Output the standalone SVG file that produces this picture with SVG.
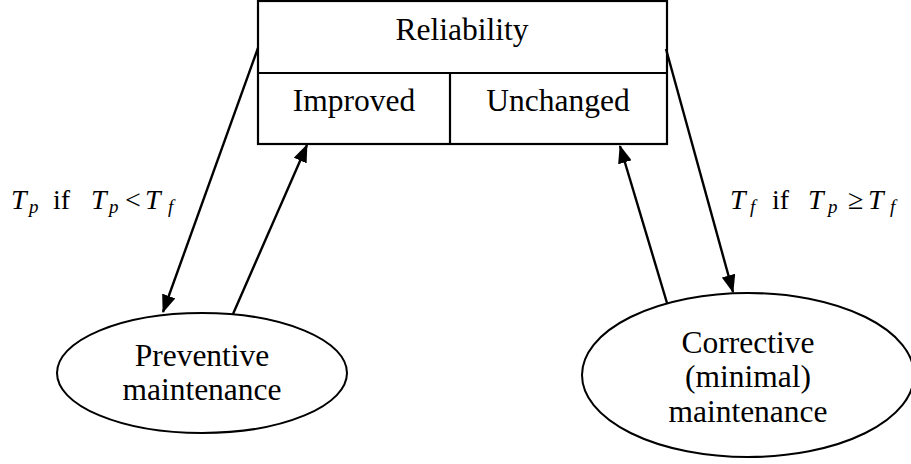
<svg xmlns="http://www.w3.org/2000/svg" width="911" height="464" viewBox="0 0 911 464">
<style>
.t{font-family:"Liberation Serif","Times New Roman",serif;font-size:31.5px;fill:#000;text-anchor:middle}
.m{font-family:"Liberation Serif","Times New Roman",serif;font-size:28px;fill:#000}
.i{font-style:italic}
.s{font-style:italic;font-size:19px}
.box{fill:#fff;stroke:#000;stroke-width:2.2}
.ell{fill:#fff;stroke:#000;stroke-width:2}
.ln{stroke:#000;stroke-width:2.4;fill:none;marker-end:url(#ah)}
</style>
<defs>
<marker id="ah" viewBox="0 0 18 14" refX="17" refY="7" markerWidth="18" markerHeight="14" markerUnits="userSpaceOnUse" orient="auto">
<path d="M0,0 L18,7 L0,14 Z" fill="#000"/>
</marker>
</defs>
<rect width="911" height="464" fill="#fff"/>
<g id="reliability">
<rect class="box" x="258" y="1" width="409" height="143"/>
<line x1="258" y1="73" x2="667" y2="73" stroke="#000" stroke-width="2.2"/>
<line x1="450" y1="73" x2="450" y2="144" stroke="#000" stroke-width="2.2"/>
<text class="t" x="462" y="40">Reliability</text>
</g>
<g id="improved">
<text class="t" x="354" y="111">Improved</text>
</g>
<g id="unchanged">
<text class="t" x="558" y="111">Unchanged</text>
</g>
<g id="preventive">
<ellipse class="ell" cx="202" cy="373" rx="145" ry="60"/>
<text class="t" x="202" y="366">Preventive</text>
<text class="t" x="202" y="400">maintenance</text>
</g>
<g id="corrective">
<ellipse class="ell" cx="748" cy="375" rx="166" ry="82"/>
<text class="t" x="748" y="353">Corrective</text>
<text class="t" x="748" y="387">(minimal)</text>
<text class="t" x="748" y="422">maintenance</text>
</g>
<g id="connectors">
<line class="ln" x1="258" y1="48" x2="163" y2="312"/>
<line class="ln" x1="233" y1="314" x2="307" y2="145"/>
<line class="ln" x1="667" y1="303" x2="620" y2="146"/>
<line class="ln" x1="666" y1="49" x2="733" y2="292"/>
</g>
<g id="label-left">
<text class="m i" x="11" y="209">T</text>
<text class="m s" x="29" y="213">p</text>
<text class="m" x="53" y="209">if</text>
<text class="m i" x="91" y="209">T</text>
<text class="m s" x="109" y="213">p</text>
<text class="m" x="125" y="209">&lt;</text>
<text class="m i" x="145" y="209">T</text>
<text class="m s" x="168" y="213">f</text>
</g>
<g id="label-right">
<text class="m i" x="730" y="209">T</text>
<text class="m s" x="750" y="213">f</text>
<text class="m" x="772" y="209">if</text>
<text class="m i" x="808" y="209">T</text>
<text class="m s" x="828" y="213">p</text>
<text class="m" x="848" y="209">≥</text>
<text class="m i" x="868" y="209">T</text>
<text class="m s" x="890" y="213">f</text>
</g>
</svg>
